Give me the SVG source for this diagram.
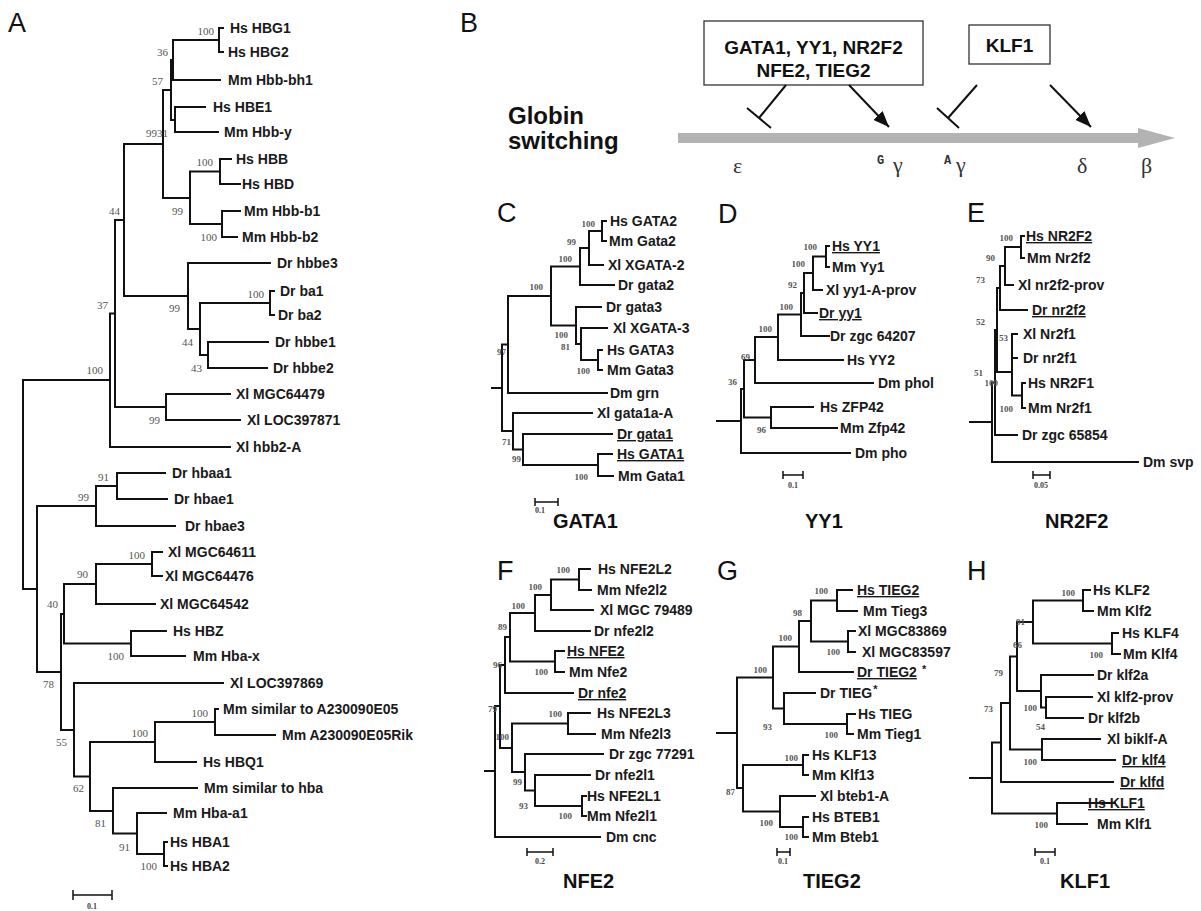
<svg xmlns="http://www.w3.org/2000/svg" width="1201" height="911" viewBox="0 0 1201 911">
<defs>
<style>
.e{fill:none;stroke:#111;stroke-width:2;stroke-linecap:square}
.sb{fill:none;stroke:#111;stroke-width:1.5}
.t{font-family:"Liberation Sans",Arial,sans-serif;font-weight:bold;font-size:14px;fill:#1a1a1a}
.u{text-decoration:underline}
.st{font-size:11px}
.b{font-family:"Liberation Serif","Times New Roman",serif;font-size:11px;fill:#555;text-anchor:end}
.b2{font-family:"Liberation Serif","Times New Roman",serif;font-size:9px;font-weight:bold;fill:#555;text-anchor:end}
.L{font-family:"Liberation Sans",Arial,sans-serif;font-size:27px;fill:#111}
.T{font-family:"Liberation Sans",Arial,sans-serif;font-weight:bold;font-size:20px;fill:#111}
.s{font-family:"Liberation Serif",serif;font-size:8px;font-weight:bold;fill:#444;text-anchor:middle}
.bt{font-family:"Liberation Sans",Arial,sans-serif;font-weight:bold;font-size:19px;fill:#111;text-anchor:middle}
.gl{font-family:"Liberation Sans",Arial,sans-serif;font-weight:bold;font-size:24px;fill:#111}
.gk{font-family:"Liberation Serif","Times New Roman",serif;font-size:22px;fill:#333}
.gs{font-family:"Liberation Mono","Courier New",monospace;font-weight:bold;font-size:12px;fill:#333}
.box{fill:#fff;stroke:#333;stroke-width:1.3}
.ar{stroke:#111;stroke-width:2;fill:none}
</style>
<marker id="ah" viewBox="0 0 10 8" refX="10" refY="4" markerWidth="8" markerHeight="6.4" orient="auto" markerUnits="strokeWidth"><path d="M0 0L10 4L0 8z" fill="#111"/></marker>
</defs>
<rect width="1201" height="911" fill="#fff"/>

<!-- PANEL A -->
<g id="panelA">
<text class="L" x="8" y="32">A</text>
<g id="A-connectors">
<path class="e" d="M219 28V52M219 28H223M219 52H223M173 40V80M173 40H219M173 80H220M175 107V132M175 107H205M175 132H218M171 60V120M171 60H173M171 120H175M220 159V184M220 159H231M220 184H240M222 211V237M222 211H240M222 237H237M190 171.5V224M190 171.5H220M190 224H222M163 90V198M163 90H171M163 198H190M270 291V315M270 291H274M270 315H274M208 342V368M208 342H268M208 368H267M200 303V355M200 303H270M200 355H208M188 263V329M188 263H270M188 329H200M124 144V296M124 144H163M124 296H188M166 394V420M166 394H230M166 420H240M115 220V407M115 220H124M115 407H166M110 313.5V447M110 313.5H115M110 447H230M23 380V589M23 380H110M23 589H37"/>
<path class="e" d="M117 473V499M117 473H165M117 499H167M96 486V526M96 486H117M96 526H175M152 552V576M152 552H162M152 576H162M96 564V604M96 564H152M96 604H155M131 631V656M131 631H166M131 656H185M64 584V643.5M64 584H96M64 643.5H131M215 709V735M215 709H218M215 735H275M155 722V762M155 722H215M155 762H196M164 842V866M164 842H167M164 866H167M137 813V854M137 813H166M137 854H164M113 788V833.5M113 788H197M113 833.5H137M90 742V811M90 742H155M90 811H113M74 683V776.5M74 683H223M74 776.5H90M61 614V730M61 614H64M61 730H74M37 506V672M37 506H96M37 672H61"/>
</g>
<g id="A-leaves">
<text class="t" x="230" y="33">Hs HBG1</text>
<text class="t" x="228" y="57">Hs HBG2</text>
<text class="t" x="228" y="85">Mm Hbb-bh1</text>
<text class="t" x="213" y="112">Hs HBE1</text>
<text class="t" x="224" y="137">Mm Hbb-y</text>
<text class="t" x="236" y="164">Hs HBB</text>
<text class="t" x="242" y="189">Hs HBD</text>
<text class="t" x="244" y="216">Mm Hbb-b1</text>
<text class="t" x="242" y="242">Mm Hbb-b2</text>
<text class="t" x="277" y="268">Dr hbbe3</text>
<text class="t" x="280" y="296">Dr ba1</text>
<text class="t" x="278" y="320">Dr ba2</text>
<text class="t" x="275" y="347">Dr hbbe1</text>
<text class="t" x="273" y="373">Dr hbbe2</text>
<text class="t" x="236" y="399">Xl MGC64479</text>
<text class="t" x="247" y="425">Xl LOC397871</text>
<text class="t" x="236" y="452">Xl hbb2-A</text>
<text class="t" x="172" y="478">Dr hbaa1</text>
<text class="t" x="174" y="504">Dr hbae1</text>
<text class="t" x="185" y="531">Dr hbae3</text>
<text class="t" x="168" y="557">Xl MGC64611</text>
<text class="t" x="165" y="581">Xl MGC64476</text>
<text class="t" x="160" y="609">Xl MGC64542</text>
<text class="t" x="173" y="636">Hs HBZ</text>
<text class="t" x="193" y="661">Mm Hba-x</text>
<text class="t" x="230" y="688">Xl LOC397869</text>
<text class="t" x="223" y="714">Mm similar to A230090E05</text>
<text class="t" x="282" y="740">Mm A230090E05Rik</text>
<text class="t" x="203" y="767">Hs HBQ1</text>
<text class="t" x="204" y="793">Mm similar to hba</text>
<text class="t" x="173" y="818">Mm Hba-a1</text>
<text class="t" x="170" y="847">Hs HBA1</text>
<text class="t" x="170" y="871">Hs HBA2</text>
</g>
<g id="A-support">
<text class="b" x="214" y="35">100</text><text class="b" x="168" y="56">36</text><text class="b" x="163" y="85">57</text><text class="b" x="168" y="137">9931</text><text class="b" x="213" y="166">100</text><text class="b" x="183" y="215">99</text><text class="b" x="217" y="241">100</text><text class="b" x="120" y="215">44</text><text class="b" x="264" y="298">100</text><text class="b" x="180" y="312">99</text><text class="b" x="108" y="309">37</text><text class="b" x="193" y="346">44</text><text class="b" x="202" y="372">43</text><text class="b" x="103" y="374">100</text><text class="b" x="160" y="424">99</text><text class="b" x="109" y="481">91</text><text class="b" x="89" y="501">99</text><text class="b" x="145" y="559">100</text><text class="b" x="88" y="578">90</text><text class="b" x="58" y="608">40</text><text class="b" x="124" y="660">100</text><text class="b" x="54" y="688">78</text><text class="b" x="208" y="717">100</text><text class="b" x="148" y="737">100</text><text class="b" x="67" y="746">55</text><text class="b" x="84" y="792">62</text><text class="b" x="106" y="827">81</text><text class="b" x="130" y="851">91</text><text class="b" x="157" y="870">100</text>
</g>
<g id="A-scale"><path class="sb" d="M73 895H112M73 890V900M112 890V900"/><text class="s" x="92" y="909">0.1</text></g>
</g>

<!-- PANEL B -->
<g id="panelB">
<text class="L" x="460" y="32">B</text>
<g id="B-label"><text class="gl" x="508" y="124">Globin</text><text class="gl" x="508" y="149">switching</text></g>
<g id="B-axis"><path d="M678 133H1138V128L1175 138L1138 148V143H678Z" fill="#b3b3b3"/></g>
<g id="B-box1"><rect class="box" x="704" y="21" width="219" height="64"/><text class="bt" x="813.5" y="54">GATA1, YY1, NR2F2</text><text class="bt" x="813.5" y="77">NFE2, TIEG2</text></g>
<g id="B-box2"><rect class="box" x="969" y="25" width="81" height="39"/><text class="bt" x="1009.5" y="52">KLF1</text></g>
<g id="B-connectors">
<path class="ar" d="M786 85L759 118M747 108L771 128"/>
<path class="ar" d="M849 85L889 127" marker-end="url(#ah)"/>
<path class="ar" d="M977 85L948 118M937 108L959 128"/>
<path class="ar" d="M1050 85L1091 127" marker-end="url(#ah)"/>
</g>
<g id="B-genes">
<text class="gk" x="733" y="173">ε</text>
<text class="gs" x="877" y="164">G</text><text class="gk" x="893" y="172">γ</text>
<text class="gs" x="944" y="164">A</text><text class="gk" x="956" y="172">γ</text>
<text class="gk" x="1077" y="173">δ</text>
<text class="gk" x="1141" y="173">β</text>
</g>
</g>

<!-- PANEL C -->
<g id="panelC">
<text class="L" x="497" y="222">C</text>
<g id="C-connectors"><path class="e" d="M602 221V241M602 221H606M602 241H606M589 231V265M589 231H602M589 265H603M580 248V285M580 248H589M580 285H614M598 350V370M598 350H602M598 370H602M581 328V360M581 328H607M581 360H598M576 307V344M576 307H601M576 344H581M551 266.5V325.5M551 266.5H580M551 325.5H576M598 454V476M598 454H612M598 476H613M523 434V465M523 434H612M523 465H598M508 296V393M508 296H551M508 393H607M513 413V449.5M513 413H592M513 449.5H523M502 344.5V431M502 344.5H508M502 431H513M492 388H502"/></g>
<g id="C-leaves">
<text class="t" x="610" y="226">Hs GATA2</text><text class="t" x="609" y="246">Mm Gata2</text><text class="t" x="608" y="270">Xl XGATA-2</text><text class="t" x="618" y="290">Dr gata2</text><text class="t" x="606" y="312">Dr gata3</text><text class="t" x="613" y="333">Xl XGATA-3</text><text class="t" x="607" y="355">Hs GATA3</text><text class="t" x="607" y="375">Mm Gata3</text><text class="t" x="610" y="398">Dm grn</text><text class="t" x="597" y="418">Xl gata1a-A</text><text class="t u" x="617" y="439">Dr gata1</text><text class="t u" x="617" y="459">Hs GATA1</text><text class="t" x="618" y="481">Mm Gata1</text>
</g>
<g id="C-support"><text class="b2" x="595" y="227">100</text><text class="b2" x="576" y="245">99</text><text class="b2" x="572" y="262">100</text><text class="b2" x="543" y="290">100</text><text class="b2" x="568" y="338">100</text><text class="b2" x="570" y="350">81</text><text class="b2" x="590" y="374">100</text><text class="b2" x="506" y="355">97</text><text class="b2" x="521" y="462">99</text><text class="b2" x="511" y="445">71</text><text class="b2" x="588" y="480">100</text></g>
<g id="C-scale"><path class="sb" d="M535 502H558M535 498V506M558 498V506"/><text class="s" x="540" y="513">0.1</text></g>
<text class="T" x="553" y="528">GATA1</text>
</g>

<!-- PANEL D -->
<g id="panelD">
<text class="L" x="718" y="223">D</text>
<g id="D-connectors"><path class="e" d="M826 246V267M826 246H829M826 267H829M813 256.5V290M813 256.5H826M813 290H822M804 273V313M804 273H813M804 313H817M801 293V336M801 293H804M801 336H829M778 314.5V360M778 314.5H801M778 360H843M755 337V383M755 337H778M755 383H873M771 407V428M771 407H813M771 428H837M744 360V417.5M744 360H755M744 417.5H771M741 389V453M741 389H744M741 453H850M717 421H741"/></g>
<g id="D-leaves">
<text class="t u" x="832" y="251">Hs YY1</text><text class="t" x="832" y="272">Mm Yy1</text><text class="t" x="826" y="295">Xl yy1-A-prov</text><text class="t u" x="819" y="318">Dr yy1</text><text class="t" x="830" y="341">Dr zgc 64207</text><text class="t" x="847" y="365">Hs YY2</text><text class="t" x="878" y="388">Dm phol</text><text class="t" x="820" y="412">Hs ZFP42</text><text class="t" x="840" y="433">Mm Zfp42</text><text class="t" x="855" y="458">Dm pho</text>
</g>
<g id="D-support"><text class="b2" x="817" y="250">100</text><text class="b2" x="805" y="267">100</text><text class="b2" x="797" y="288">92</text><text class="b2" x="793" y="310">100</text><text class="b2" x="772" y="332">100</text><text class="b2" x="750" y="360">69</text><text class="b2" x="737" y="385">36</text><text class="b2" x="766" y="433">96</text></g>
<g id="D-scale"><path class="sb" d="M783 475H803M783 471V479M803 471V479"/><text class="s" x="793" y="488">0.1</text></g>
<text class="T" x="805" y="528">YY1</text>
</g>

<!-- PANEL E -->
<g id="panelE">
<text class="L" x="967" y="222">E</text>
<g id="E-connectors"><path class="e" d="M1021 236V258M1021 236H1024M1021 258H1024M1005 247V285M1005 247H1021M1005 285H1013M1000 266V310M1000 266H1005M1000 310H1027M1022 383V408M1022 383H1025M1022 408H1025M1012 334V395.5M1012 334H1017M1012 358H1017M1012 395.5H1022M997 288V372M997 288H1000M997 372H1012M995 330V435M995 330H997M995 435H1017M992 382.5V462M992 382.5H995M992 462H1138M970 422H992"/></g>
<g id="E-leaves">
<text class="t u" x="1026" y="241">Hs NR2F2</text><text class="t" x="1027" y="263">Mm Nr2f2</text><text class="t" x="1018" y="290">Xl nr2f2-prov</text><text class="t u" x="1032" y="315">Dr nr2f2</text><text class="t" x="1023" y="339">Xl Nr2f1</text><text class="t" x="1023" y="363">Dr nr2f1</text><text class="t" x="1028" y="388">Hs NR2F1</text><text class="t" x="1028" y="413">Mm Nr2f1</text><text class="t" x="1022" y="440">Dr zgc 65854</text><text class="t" x="1143" y="467">Dm svp</text>
</g>
<g id="E-support"><text class="b2" x="1013" y="241">100</text><text class="b2" x="995" y="261">90</text><text class="b2" x="985" y="283">73</text><text class="b2" x="985" y="325">52</text><text class="b2" x="1008" y="341">53</text><text class="b2" x="983" y="376">51</text><text class="b2" x="998" y="386">100</text><text class="b2" x="1013" y="412">100</text></g>
<g id="E-scale"><path class="sb" d="M1033 475H1050M1033 471V479M1050 471V479"/><text class="s" x="1041" y="488">0.05</text></g>
<text class="T" x="1045" y="528">NR2F2</text>
</g>

<!-- PANEL F -->
<g id="panelF">
<text class="L" x="497" y="580">F</text>
<g id="F-connectors"><path class="e" d="M579 569V590M579 569H590M579 590H591M551 579.5V610M551 579.5H579M551 610H593M535 595V631M535 595H551M535 631H590M555 651V672M555 651H564M555 672H564M568 713V734M568 713H590M568 734H595M582 796V816M582 796H586M582 816H586M535 775V806M535 775H590M535 806H582M525 754V790.5M525 754H603M525 790.5H535M510 613V661.5M510 613H535M510 661.5H555M505 637V693M505 637H510M505 693H573M512 723.5V772M512 723.5H568M512 772H525M500 665V748M500 665H505M500 748H512M495 706V837M495 706H500M495 837H600M485 771H495"/></g>
<g id="F-leaves">
<text class="t" x="598" y="574">Hs NFE2L2</text><text class="t" x="597" y="595">Mm Nfe2l2</text><text class="t" x="600" y="615">Xl MGC 79489</text><text class="t" x="594" y="636">Dr nfe2l2</text><text class="t u" x="567" y="656">Hs NFE2</text><text class="t" x="569" y="677">Mm Nfe2</text><text class="t u" x="578" y="698">Dr nfe2</text><text class="t" x="597" y="718">Hs NFE2L3</text><text class="t" x="601" y="739">Mm Nfe2l3</text><text class="t" x="609" y="759">Dr zgc 77291</text><text class="t" x="595" y="780">Dr nfe2l1</text><text class="t" x="587" y="801">Hs NFE2L1</text><text class="t" x="587" y="821">Mm Nfe2l1</text><text class="t" x="606" y="842">Dm cnc</text>
</g>
<g id="F-support"><text class="b2" x="570" y="573">100</text><text class="b2" x="542" y="590">100</text><text class="b2" x="525" y="609">100</text><text class="b2" x="507" y="630">89</text><text class="b2" x="502" y="668">96</text><text class="b2" x="548" y="675">100</text><text class="b2" x="497" y="712">79</text><text class="b2" x="562" y="717">100</text><text class="b2" x="509" y="740">100</text><text class="b2" x="522" y="785">99</text><text class="b2" x="528" y="809">93</text><text class="b2" x="572" y="819">100</text></g>
<g id="F-scale"><path class="sb" d="M527 852H553M527 848V856M553 848V856"/><text class="s" x="540" y="864">0.2</text></g>
<text class="T" x="563" y="888">NFE2</text>
</g>

<!-- PANEL G -->
<g id="panelG">
<text class="L" x="717" y="580">G</text>
<g id="G-connectors"><path class="e" d="M837 590V611M837 590H852M837 611H857M848 631V652M848 631H855M848 652H855M811 600.5V641.5M811 600.5H837M811 641.5H848M799 621V672M799 621H811M799 672H853M847 714V734M847 714H855M847 734H853M784 693V724M784 693H815M784 724H847M773 646.5V708.5M773 646.5H799M773 708.5H784M803 755V775M803 755H808M803 775H808M803 817V837M803 817H808M803 837H808M780 796V827M780 796H815M780 827H803M743 765V811.5M743 765H803M743 811.5H780M737 677.5V788M737 677.5H773M737 788H743M717 733H737"/></g>
<g id="G-leaves">
<text class="t" x="857" y="595"><tspan class="u">Hs TIEG2</tspan></text><text class="t" x="863" y="616">Mm Tieg3</text><text class="t" x="858" y="636">Xl MGC83869</text><text class="t" x="862" y="657">Xl MGC83597</text><text class="t" x="857" y="677"><tspan class="u">Dr TIEG2</tspan><tspan dx="5" dy="-4" class="st">*</tspan></text><text class="t" x="820" y="698">Dr TIEG<tspan dx="1" dy="-5" class="st">*</tspan></text><text class="t" x="858" y="719">Hs TIEG</text><text class="t" x="857" y="739">Mm Tieg1</text><text class="t" x="812" y="760">Hs KLF13</text><text class="t" x="812" y="780">Mm Klf13</text><text class="t" x="820" y="801">Xl bteb1-A</text><text class="t" x="812" y="822">Hs BTEB1</text><text class="t" x="812" y="842">Mm Bteb1</text>
</g>
<g id="G-support"><text class="b2" x="828" y="594">100</text><text class="b2" x="802" y="616">98</text><text class="b2" x="792" y="641">100</text><text class="b2" x="840" y="655">100</text><text class="b2" x="767" y="673">100</text><text class="b2" x="772" y="730">93</text><text class="b2" x="838" y="738">100</text><text class="b2" x="798" y="761">100</text><text class="b2" x="735" y="795">87</text><text class="b2" x="773" y="826">100</text><text class="b2" x="798" y="840">100</text></g>
<g id="G-scale"><path class="sb" d="M777 852H790M777 848V856M790 848V856"/><text class="s" x="783" y="864">0.1</text></g>
<text class="T" x="803" y="888">TIEG2</text>
</g>

<!-- PANEL H -->
<g id="panelH">
<text class="L" x="967" y="580">H</text>
<g id="H-connectors"><path class="e" d="M1083 590V611M1083 590H1090M1083 611H1093M1112 633V654M1112 633H1118M1112 654H1120M1033 600.5V643.5M1033 600.5H1083M1033 643.5H1112M1046 697V718M1046 697H1092M1046 718H1083M1041 675V707.5M1041 675H1093M1041 707.5H1046M1017 622V691M1017 622H1033M1017 691H1041M1042 739V760M1042 739H1100M1042 760H1115M1010 656.5V749.5M1010 656.5H1017M1010 749.5H1042M1001 703V782M1001 703H1010M1001 782H1113M1057 803V824M1057 803H1115M1057 824H1087M992 742.5V813.5M992 742.5H1001M992 813.5H1057M970 778H992"/></g>
<g id="H-leaves">
<text class="t" x="1093" y="595">Hs KLF2</text><text class="t" x="1097" y="616">Mm Klf2</text><text class="t" x="1122" y="638">Hs KLF4</text><text class="t" x="1123" y="659">Mm Klf4</text><text class="t" x="1097" y="680">Dr klf2a</text><text class="t" x="1097" y="702">Xl klf2-prov</text><text class="t" x="1088" y="723">Dr klf2b</text><text class="t" x="1107" y="744">Xl biklf-A</text><text class="t u" x="1122" y="765">Dr klf4</text><text class="t u" x="1120" y="787">Dr klfd</text><text class="t u" x="1088" y="808">Hs KLF1</text><text class="t" x="1097" y="829">Mm Klf1</text>
</g>
<g id="H-support"><text class="b2" x="1075" y="596">100</text><text class="b2" x="1025" y="625">91</text><text class="b2" x="1022" y="648">66</text><text class="b2" x="1103" y="658">100</text><text class="b2" x="1003" y="676">79</text><text class="b2" x="1037" y="711">100</text><text class="b2" x="993" y="712">73</text><text class="b2" x="1045" y="730">54</text><text class="b2" x="1037" y="765">100</text><text class="b2" x="1048" y="828">100</text></g>
<g id="H-scale"><path class="sb" d="M1035 852H1055M1035 848V856M1055 848V856"/><text class="s" x="1045" y="864">0.1</text></g>
<text class="T" x="1060" y="888">KLF1</text>
</g>
</svg>
